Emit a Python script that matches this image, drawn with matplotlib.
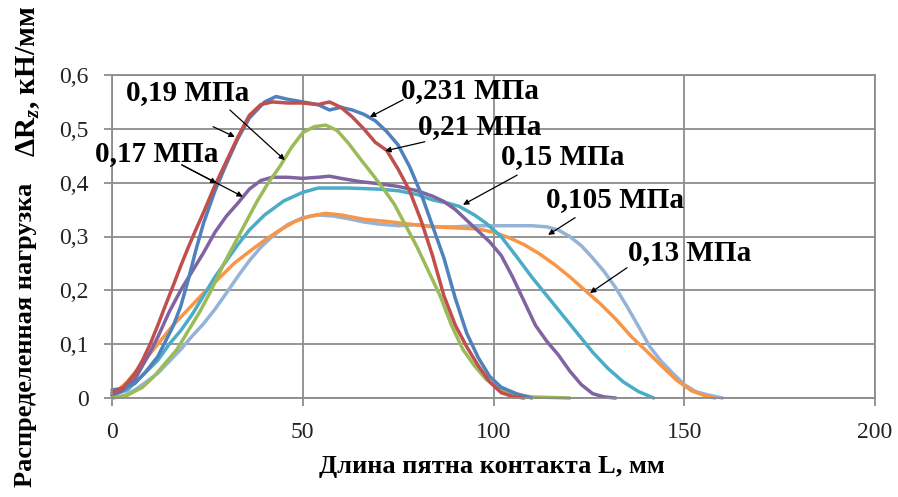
import matplotlib
matplotlib.use("Agg")
import matplotlib.pyplot as plt

plt.rcParams['font.family'] = ['Liberation Serif', 'DejaVu Serif']
plt.rcParams['mathtext.fontset'] = 'custom'
plt.rcParams['mathtext.rm'] = 'Liberation Serif:bold'
plt.rcParams['mathtext.it'] = 'Liberation Serif:italic:bold'
plt.rcParams['mathtext.bf'] = 'Liberation Serif:bold'

# ---------------- data ----------------
x_lb = [0, 3, 6, 9, 12, 15, 18, 21, 24, 27, 30, 33, 36, 39, 42, 46, 50, 54, 58, 62, 66, 70, 75, 80,
        85, 90, 95, 100, 105, 110, 114, 117, 120, 123, 126, 129, 132, 135, 138, 141, 144, 147, 150,
        153, 156, 160]
y_lb = [0.0, 0.004, 0.015, 0.03, 0.046, 0.068, 0.09, 0.115, 0.138, 0.165, 0.195, 0.226, 0.255,
        0.28, 0.3, 0.322, 0.335, 0.34, 0.338, 0.333, 0.327, 0.323, 0.32, 0.322, 0.318, 0.318, 0.32,
        0.32, 0.32, 0.32, 0.318, 0.312, 0.3, 0.283, 0.26, 0.235, 0.205, 0.17, 0.133, 0.095, 0.068,
        0.046, 0.025, 0.012, 0.006, 0.0]

x_or = [0, 4, 8, 12, 16, 20, 24, 28, 32, 36, 40, 44, 48, 52, 56, 60, 66, 72, 78, 84, 90, 96,
        100, 104, 108, 112, 116, 120, 124, 128, 132, 136, 140, 144, 148, 152, 156, 158]
y_or = [0.005, 0.03, 0.065, 0.1, 0.135, 0.165, 0.195, 0.222, 0.25, 0.272, 0.293, 0.312,
        0.328, 0.338, 0.343, 0.34, 0.332, 0.328, 0.323, 0.318, 0.316, 0.314, 0.308, 0.298, 0.285,
        0.268, 0.248, 0.225, 0.2, 0.175, 0.147, 0.115, 0.088, 0.06, 0.033, 0.013, 0.003, 0.0]

x_te = [0, 4, 8, 12, 15, 18, 21, 24, 27, 30, 33, 36, 40, 45, 50, 54, 58, 62, 66, 70, 75, 80, 84,
        88, 91, 95, 98, 102, 106, 110, 114, 118, 122, 126, 130, 134, 138, 142]
y_te = [0.005, 0.015, 0.042, 0.07, 0.1, 0.125, 0.155, 0.19, 0.225, 0.255, 0.285, 0.312, 0.34,
        0.366, 0.382, 0.39, 0.39, 0.39, 0.389, 0.388, 0.385, 0.378, 0.368, 0.362, 0.356, 0.34, 0.325,
        0.3, 0.263, 0.225, 0.19, 0.155, 0.12, 0.085, 0.055, 0.03, 0.012, 0.0]

x_pu = [0, 3, 6, 8, 10, 12, 15, 18, 21, 24, 27, 30, 33, 36, 39, 42, 46, 50, 54, 57, 60, 65, 70,
        75, 80, 84, 87, 90, 93, 96, 99, 102, 105, 108, 111, 114, 117, 120, 123, 126, 129, 132]
y_pu = [0.005, 0.015, 0.035, 0.06, 0.085, 0.113, 0.16, 0.2, 0.235, 0.27, 0.308, 0.338, 0.362,
        0.388, 0.404, 0.41, 0.41, 0.408, 0.41, 0.412, 0.408, 0.402, 0.398, 0.393, 0.385, 0.375,
        0.365, 0.35, 0.33, 0.31, 0.29, 0.265, 0.225, 0.18, 0.135, 0.105, 0.08, 0.05, 0.025, 0.008,
        0.002, 0.0]

x_gr = [0, 4, 8, 11, 14, 17, 20, 23, 26, 29, 32, 35, 38, 41, 44, 47, 50, 53, 56, 59, 62, 65, 68,
        71, 74, 77, 80, 83, 86, 89, 92, 95, 98, 102, 106, 110, 115, 120]
y_gr = [0.0, 0.005, 0.02, 0.04, 0.065, 0.09, 0.125, 0.16, 0.2, 0.245, 0.285, 0.325, 0.365,
        0.4, 0.43, 0.465, 0.493, 0.504, 0.507, 0.497, 0.473, 0.445, 0.418, 0.39, 0.36, 0.32, 0.28,
        0.235, 0.19, 0.135, 0.09, 0.06, 0.035, 0.015, 0.006, 0.002, 0.001, 0.0]

x_bl = [0, 3, 6, 9, 12, 14, 16, 18, 20, 22, 24, 27, 30, 33, 36, 40, 43, 46, 50, 54, 57, 60, 63,
        66, 69, 72, 75, 78, 81, 84, 87, 90, 93, 96, 99, 102, 106, 110]
y_bl = [0.015, 0.018, 0.027, 0.05, 0.077, 0.105, 0.133, 0.17, 0.22, 0.275, 0.325, 0.385, 0.435,
        0.482, 0.52, 0.55, 0.56, 0.555, 0.55, 0.545, 0.535, 0.54, 0.535, 0.527, 0.515, 0.495, 0.47,
        0.43, 0.38, 0.32, 0.26, 0.185, 0.12, 0.075, 0.04, 0.02, 0.008, 0.0]

x_re = [0, 3, 6, 8, 10, 12, 14, 16, 18, 20, 22, 24, 27, 30, 33, 36, 39, 42, 46, 50, 54, 57, 60,
        63, 66, 69, 72, 75, 78, 81, 84, 87, 90, 93, 96, 99, 102, 105, 108]
y_re = [0.01, 0.02, 0.045, 0.07, 0.1, 0.135, 0.172, 0.208, 0.245, 0.28, 0.313, 0.345, 0.395,
        0.44, 0.485, 0.525, 0.545, 0.55, 0.548, 0.548, 0.545, 0.55, 0.54, 0.522, 0.5, 0.475, 0.46,
        0.425, 0.385, 0.33, 0.265, 0.19, 0.135, 0.095, 0.06, 0.03, 0.01, 0.003, 0.0]

series = [
    (x_lb, y_lb, '#95B3D7'),
    (x_or, y_or, '#F79646'),
    (x_te, y_te, '#4BACC6'),
    (x_pu, y_pu, '#8064A2'),
    (x_gr, y_gr, '#9BBB59'),
    (x_bl, y_bl, '#4F81BD'),
    (x_re, y_re, '#C0504D'),
]

x_ticks = [0, 50, 100, 150, 200]
y_ticks = [0, 0.1, 0.2, 0.3, 0.4, 0.5, 0.6]
y_tick_labels = ['0', '0,1', '0,2', '0,3', '0,4', '0,5', '0,6']

labels = ['0,19 МПа', '0,17 МПа', '0,231 МПа', '0,21 МПа', '0,15 МПа', '0,105 МПа', '0,13 МПа']
label_pos = [(19.9, 0.567), (11.8, 0.455), (93.8, 0.571), (96.5, 0.504), (118.2, 0.448),
             (131.8, 0.368), (151.5, 0.271)]
# arrows: (start, end) in data units
arrows = [
    ((30.9, 0.535), (45.3, 0.442)),
    ((26.5, 0.504), (32.2, 0.485)),
    ((18.3, 0.433), (34.3, 0.374)),
    ((18.3, 0.433), (27.4, 0.399)),
    ((76.3, 0.554), (67.6, 0.522)),
    ((82.0, 0.476), (71.6, 0.459)),
    ((106.2, 0.414), (92.0, 0.359)),
    ((121.4, 0.335), (114.3, 0.303)),
    ((135.0, 0.242), (125.3, 0.195)),
]

# ---------------- figure ----------------
fig = plt.figure(figsize=(8.98, 4.97), dpi=100)
ax = fig.add_axes([112 / 898, 1 - 398 / 497, (875 - 112) / 898, (398 - 75) / 497])

grid_c = '#8C8C8C'
ax.set_xlim(0, 200)
ax.set_ylim(0, 0.6)
ax.set_xticks(x_ticks)
ax.set_yticks(y_ticks)
ax.set_yticklabels(y_tick_labels)
ax.grid(True, color=grid_c, lw=1.3)
ax.set_axisbelow(True)
for s in ax.spines.values():
    s.set_color(grid_c)
    s.set_linewidth(1.3)
ax.tick_params(axis='both', colors=grid_c, length=6, width=1.3, labelcolor='#222222',
               labelsize=17)
ax.tick_params(axis='x', pad=11)
ax.tick_params(axis='y', pad=11)

for xs, ys, c in series:
    ax.plot(xs, ys, color=c, lw=2.5, solid_capstyle='round', solid_joinstyle='round', clip_on=False)

for (s, e) in arrows:
    ax.annotate('', xy=e, xytext=s,
                arrowprops=dict(arrowstyle='-|>', color='black', lw=0.9, mutation_scale=8,
                                shrinkA=0, shrinkB=0))

for txt, (lx, ly) in zip(labels, label_pos):
    ax.text(lx, ly, txt, ha='center', va='center', fontsize=21, fontweight='bold', color='black')

fig.text(0.548, 0.062, 'Длина пятна контакта L, мм', ha='center', va='center',
         fontsize=19, fontweight='bold', color='black')
fig.text(0.028, 0.326, 'Распределенная нагрузка', ha='center', va='center', rotation=90,
         fontsize=19, fontweight='bold', color='black')
fig.text(0.031, 0.835, r'ΔR$_z$, кН/мм', ha='center', va='center', rotation=90,
         fontsize=21, fontweight='bold', color='black')

fig.savefig('out.png', dpi=100)
